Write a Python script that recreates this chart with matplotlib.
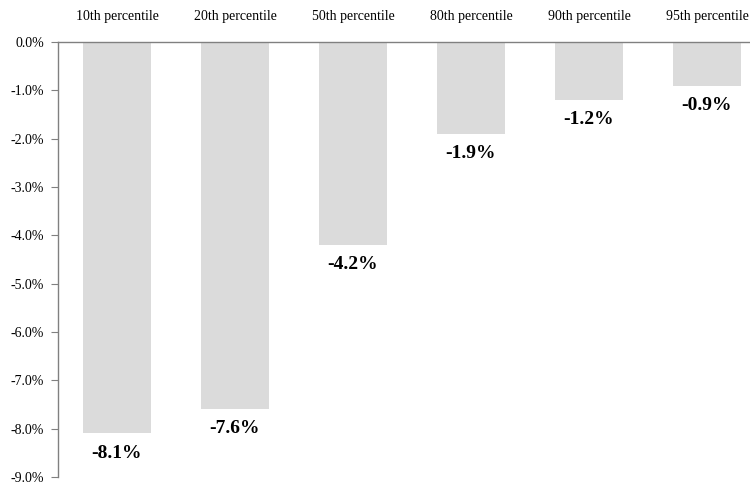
import numpy as np
import matplotlib.pyplot as plt
from matplotlib.ticker import FuncFormatter

categories = ['10th percentile', '20th percentile', '50th percentile',
              '80th percentile', '90th percentile', '95th percentile']
values = [-8.1, -7.6, -4.2, -1.9, -1.2, -0.9]

plt.rcParams['font.family'] = ['Liberation Serif', 'DejaVu Serif']

fig = plt.figure(figsize=(7.5, 4.87), dpi=100)
ax = fig.add_axes([58 / 750, 1 - 477 / 487, 708 / 750, 435 / 487])

x = np.arange(len(categories))
ax.bar(x, values, width=0.58, color='#dbdbdb', zorder=2)

for xi, v in zip(x, values):
    ax.annotate(f'{v:.1f}%', (xi, v), xytext=(0, -8), textcoords='offset points',
                ha='center', va='top', fontsize=14, fontweight='bold')

ax.set_xlim(-0.5, len(categories) - 0.5)
ax.set_ylim(-9, 0)
ax.set_yticks(np.arange(-9, 0.1, 1))
ax.yaxis.set_major_formatter(FuncFormatter(lambda v, p: f'{v:.1f}%'))

ax.xaxis.tick_top()
ax.set_xticks(x)
ax.set_xticklabels(categories, fontsize=10)
ax.tick_params(axis='x', length=0, pad=14)
ax.tick_params(axis='y', labelsize=10, length=5, color='#808080', pad=5)

for s in ['right', 'bottom']:
    ax.spines[s].set_visible(False)
for s in ['left', 'top']:
    ax.spines[s].set_color('#808080')
    ax.spines[s].set_linewidth(1)

fig.savefig('out.png', dpi=100)
